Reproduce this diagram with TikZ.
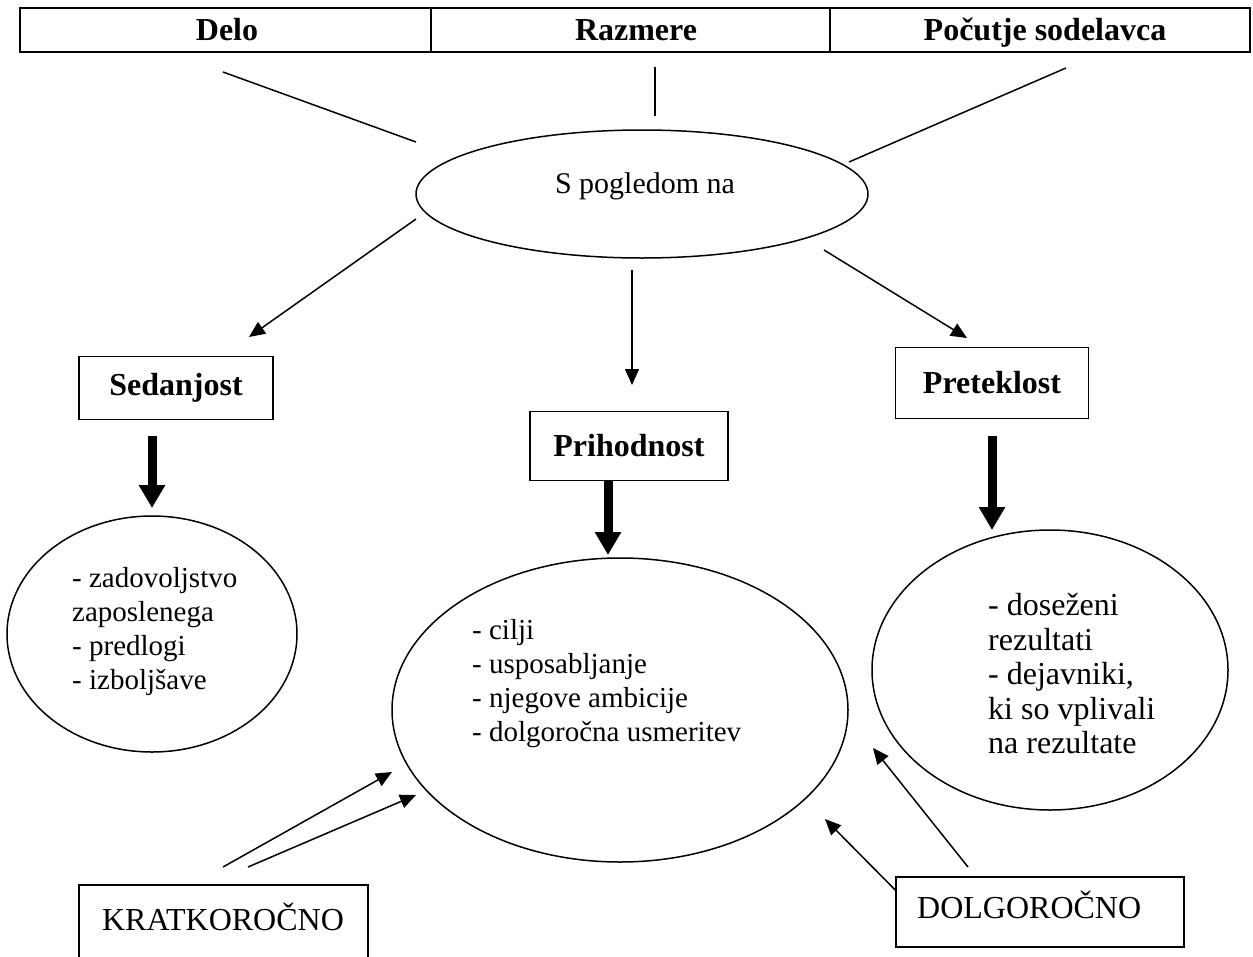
\documentclass[tikz,border=0pt]{standalone}
\usepackage{fontspec}
\setmainfont{Liberation Serif}
\usetikzlibrary{arrows.meta,shapes.geometric,positioning}

\tikzset{
  oval/.style={draw,ellipse,line width=1.5pt,inner sep=0pt},
  tagbox/.style={draw,line width=1.5pt,inner sep=0pt,font=\fontsize{32}{36}\selectfont\bfseries},
  plainbox/.style={draw,line width=1.5pt,inner sep=0pt},
  header/.style={anchor=base,inner sep=0pt,font=\fontsize{32}{36}\selectfont\bfseries},
  thinarrow/.style={line width=1.5pt,-{Triangle[length=16pt,width=14pt]}},
  fatarrow/.style={line width=9pt,-{Triangle[length=23pt,width=25pt]}},
  plain/.style={line width=1.5pt},
  bodytext/.style={align=left,inner sep=0pt,font=\fontsize{29}{34}\selectfont},
}

\begin{document}
\begin{tikzpicture}[x=1pt,y=-1pt]
  \useasboundingbox (0,0) rectangle (1253,956);

  % Tabela z vidiki
  \node[plainbox,line width=2.2pt,minimum width=1230pt,minimum height=44pt] (tabela) at (635,30) {};
  \draw[line width=1.2pt] (tabela.north -| 431,0) -- (tabela.south -| 431,0);
  \draw[line width=1.2pt] (tabela.north -| 830,0) -- (tabela.south -| 830,0);
  \node[header] (delo) at (227,40) {Delo};
  \node[header] (razmere) at (636,40) {Razmere};
  \node[header] (pocutje) at (1045,40) {Počutje sodelavca};

  % Osrednja elipsa
  \node[oval,minimum width=452pt,minimum height=128pt] (pogled) at (642,194) {};
  \node[font=\fontsize{30}{34}\selectfont,inner sep=0pt] (pogledtxt) at (645,186) {S pogledom na};

  % Crte od tabele proti elipsi
  \coordinate (d1) at (223,72);   \coordinate (d2) at (416,142);
  \coordinate (r1) at (655,67);   \coordinate (r2) at (655,116);
  \coordinate (p1) at (1066,68);  \coordinate (p2) at (849,162);
  \draw[plain] (d1) -- (d2);
  \draw[plain] (r1) -- (r2);
  \draw[plain] (p1) -- (p2);

  % Casovna obdobja
  \node[tagbox,minimum width=194pt,minimum height=63pt] (sedanjost) at (176,388) {Sedanjost};
  \node[tagbox,minimum width=198pt,minimum height=69pt] (prihodnost) at (629,446) {Prihodnost};
  \node[tagbox,minimum width=193pt,minimum height=71pt] (preteklost) at (992,383) {Preteklost};

  \coordinate (s1) at (416,219);  \coordinate (s2) at (249,337);
  \coordinate (m1) at (632,270);  \coordinate (m2) at (632,385);
  \coordinate (t1) at (824,250);  \coordinate (t2) at (967,338);
  \draw[thinarrow] (s1) -- (s2);
  \draw[thinarrow] (m1) -- (m2);
  \draw[thinarrow] (t1) -- (t2);

  % Elipse z vsebino
  \node[oval,minimum width=290pt,minimum height=236pt] (sedaj) at (152,634) {};
  \node[oval,minimum width=456pt,minimum height=304pt] (cilji) at (620,710) {};
  \node[oval,minimum width=356pt,minimum height=280pt] (rezultati) at (1050,670) {};

  \node[bodytext,anchor=west] (sedajtxt) at (72,632)
    {- zadovoljstvo\\zaposlenega\\- predlogi\\- izboljšave};
  \node[bodytext,anchor=west] (ciljitxt) at (472,684)
    {- cilji\\- usposabljanje\\- njegove ambicije\\- dolgoročna usmeritev};
  \node[bodytext,anchor=west,font=\fontsize{32}{34.5}\selectfont] (rezultatitxt) at (988,674)
    {- doseženi\\rezultati\\- dejavniki,\\ki so vplivali\\na rezultate};

  \draw[fatarrow] (152,436) -- (152,508);
  \draw[fatarrow] (608,481) -- (608,555);
  \draw[fatarrow] (992,436) -- (992,530);

  % Kratkorocno in dolgorocno
  \node[plainbox,minimum width=289pt,minimum height=90pt] (kratko) at (223.5,930) {};
  \node[font=\fontsize{32}{36}\selectfont,inner sep=0pt] (kratkotxt) at (223,917) {KRATKOROČNO};
  \node[plainbox,minimum width=288pt,minimum height=70pt] (dolgo) at (1040,912) {};
  \node[font=\fontsize{32}{36}\selectfont,inner sep=0pt,anchor=west] (dolgotxt) at (917,905) {DOLGOROČNO};

  \coordinate (k1) at (223,867);  \coordinate (k2) at (392,772);
  \coordinate (k3) at (248,867);  \coordinate (k4) at (416,795);
  \coordinate (g1) at (968,867);  \coordinate (g2) at (873,748);
  \coordinate (g3) at (dolgo.west |- 0,890); \coordinate (g4) at (825,819);
  \draw[thinarrow] (k1) -- (k2);
  \draw[thinarrow] (k3) -- (k4);
  \draw[thinarrow] (g1) -- (g2);
  \draw[thinarrow] (g3) -- (g4);
\end{tikzpicture}
\end{document}
